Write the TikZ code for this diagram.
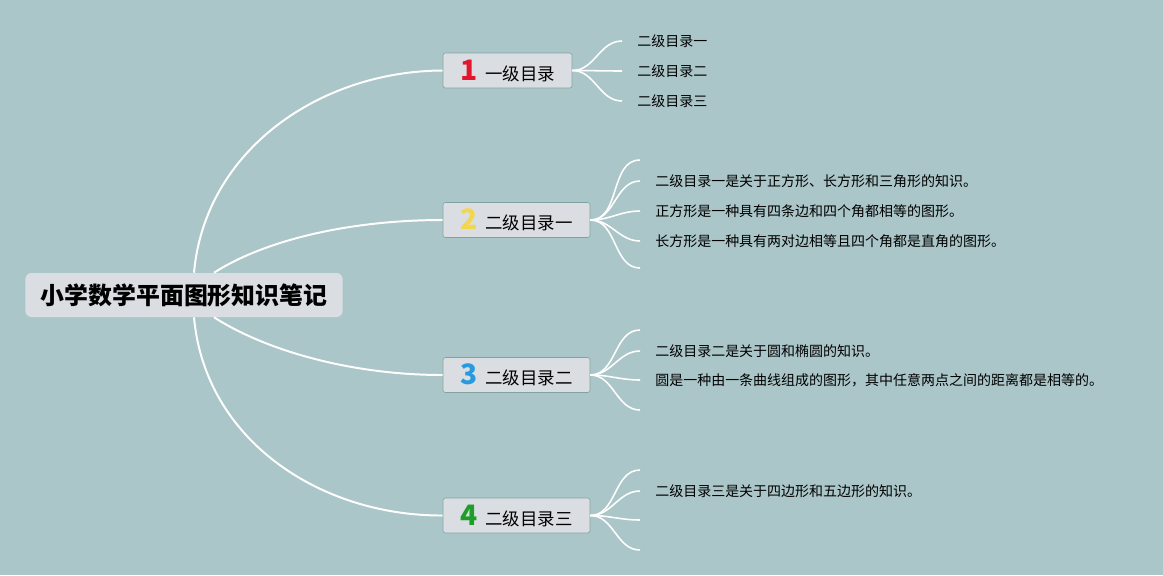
\documentclass[tikz,border=0pt]{standalone}
\usepackage{fontspec}
\usepackage{xcolor}
\setmainfont{Noto Sans CJK SC}
\usetikzlibrary{positioning,calc}
\definecolor{bgteal}{RGB}{171,198,201}
\definecolor{boxgray}{RGB}{218,222,226}
\definecolor{boxline}{RGB}{128,163,160}
\definecolor{numred}{RGB}{226,22,44}
\definecolor{numyellow}{RGB}{244,214,76}
\definecolor{numblue}{RGB}{40,155,224}
\definecolor{numgreen}{RGB}{28,158,40}
\newcommand{\topicnum}[2]{{\color{#1}\fontsize{20}{20}\selectfont\bfseries #2}\hspace{0.2cm}}

\begin{document}
\begin{tikzpicture}[x=0.025cm, y=-0.025cm,
  root/.style={fill=boxgray, rounded corners=0.15cm, minimum width=7.925cm, minimum height=1.1cm,
               inner sep=0pt, font=\fontsize{17}{20}\selectfont\bfseries},
  topic/.style={draw=boxline, fill=boxgray, rounded corners=0.06cm, minimum height=0.875cm,
                inner xsep=0pt, font=\fontsize{12.4}{14}\selectfont},
  leaf/.style={anchor=west, inner ysep=0pt, inner xsep=0.375cm, font=\fontsize{9.95}{12}\selectfont},
  branch/.style={white, line width=1.4pt},
  twig/.style={white, line width=1.1pt, out=0, in=180}
]
\fill[bgteal] (0,0) rectangle (1163,575);
\useasboundingbox (0,0) rectangle (1163,575);

% Root
\node[root] (R) at (184,295) {小学数学平面图形知识笔记};

% Topics
\node[topic, minimum width=3.225cm] (T1) at (507.5,70.5) {\topicnum{numred}{1}一级目录};
\node[topic, minimum width=3.675cm] (T2) at (516.5,220) {\topicnum{numyellow}{2}二级目录一};
\node[topic, minimum width=3.675cm] (T3) at (516.5,375) {\topicnum{numblue}{3}二级目录二};
\node[topic, minimum width=3.675cm] (T4) at (516.5,515.5) {\topicnum{numgreen}{4}二级目录三};

% Root to topics
\draw[branch] ($(R.north)+(10,0)$) .. controls (205,150) and (320,71) .. (T1.west);
\draw[branch] ($(R.north)+(30,0)$) .. controls (265,240) and (350,220) .. (T2.west);
\draw[branch] ($(R.south)+(30,0)$) .. controls (265,350) and (350,375) .. (T3.west);
\draw[branch] ($(R.south)+(10,0)$) .. controls (205,440) and (320,516) .. (T4.west);

% Leaves of topic 1
\node[leaf] (L1a) at (622,41) {二级目录一};
\node[leaf] (L1b) at (622,71) {二级目录二};
\node[leaf] (L1c) at (622,101) {二级目录三};
\draw[twig] (T1.east) to (L1a.west);
\draw[twig] (T1.east) to (L1b.west);
\draw[twig] (T1.east) to (L1c.west);

% Leaves of topic 2
\coordinate (E2a) at (640,160);
\coordinate (E2b) at (640,268);
\node[leaf] (L2a) at (640,181) {二级目录一是关于正方形、长方形和三角形的知识。};
\node[leaf] (L2b) at (640,211) {正方形是一种具有四条边和四个角都相等的图形。};
\node[leaf] (L2c) at (640,241) {长方形是一种具有两对边相等且四个角都是直角的图形。};
\draw[twig] (T2.east) to (E2a);
\draw[twig] (T2.east) to (L2a.west);
\draw[twig] (T2.east) to (L2b.west);
\draw[twig] (T2.east) to (L2c.west);
\draw[twig] (T2.east) to (E2b);

% Leaves of topic 3
\coordinate (E3a) at (640,330);
\coordinate (E3b) at (640,410);
\node[leaf] (L3a) at (640,351) {二级目录二是关于圆和椭圆的知识。};
\node[leaf] (L3b) at (640,380) {圆是一种由一条曲线组成的图形，其中任意两点之间的距离都是相等的。};
\draw[twig] (T3.east) to (E3a);
\draw[twig] (T3.east) to (L3a.west);
\draw[twig] (T3.east) to (L3b.west);
\draw[twig] (T3.east) to (E3b);

% Leaves of topic 4
\coordinate (E4a) at (640,470);
\coordinate (E4b) at (640,520);
\coordinate (E4c) at (640,550);
\node[leaf] (L4a) at (640,491) {二级目录三是关于四边形和五边形的知识。};
\draw[twig] (T4.east) to (E4a);
\draw[twig] (T4.east) to (L4a.west);
\draw[twig] (T4.east) to (E4b);
\draw[twig] (T4.east) to (E4c);

\end{tikzpicture}
\end{document}
